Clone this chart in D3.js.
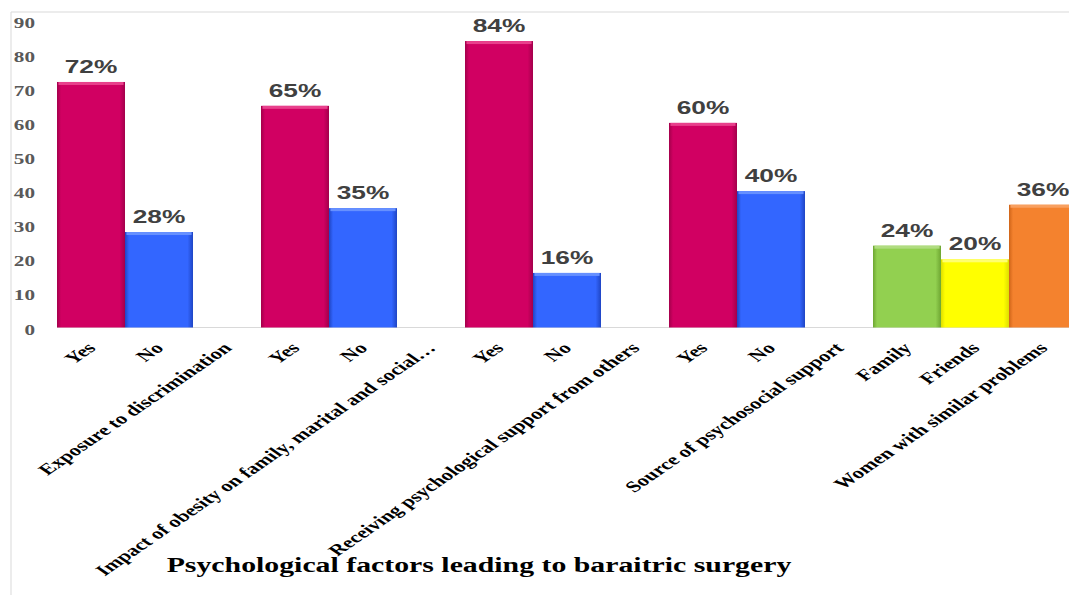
<!DOCTYPE html>
<html>
<head>
<meta charset="utf-8">
<script src="https://cdn.jsdelivr.net/npm/d3@7"></script>
<style>
  body { margin: 0; background: #fff; }
  svg { display: block; }
</style>
</head>
<body>
<div id="plot"></div>
<script>
// categories along the x axis (group titles sit in their own empty slot)
const categories = [
  "Yes", "No", "Exposure to discrimination",
  "Yes", "No", "Impact of obesity on family, marital and social\u2026",
  "Yes", "No", "Receiving psychological support from others",
  "Yes", "No", "Source of psychosocial support",
  "Family", "Friends", "Women with similar problems"
];
// percentages, null where the slot only carries the group title
const values = [72, 28, null, 65, 35, null, 84, 16, null, 60, 40, null, 24, 20, 36];
const yTicks = [0, 10, 20, 30, 40, 50, 60, 70, 80, 90];
const chartTitle = "Psychological factors leading to baraitric surgery";

const width = 1069, height = 595;
const SX = 1.46;            // the picture is stretched sideways
const vw = width / SX;

const svg = d3.select("#plot").append("svg")
  .attr("width", width)
  .attr("height", height);

// chart border (left and top only visible)
svg.append("line").attr("x1", 11).attr("x2", 11).attr("y1", 12).attr("y2", height)
  .attr("stroke", "#d9d9d9");
svg.append("line").attr("x1", 11).attr("x2", width).attr("y1", 12).attr("y2", 12)
  .attr("stroke", "#d9d9d9");

const g = svg.append("g").attr("transform", `scale(${SX},1)`);

const x = d3.scaleBand()
  .domain(d3.range(categories.length))
  .range([57 / SX, 1077 / SX])
  .padding(0);

const y = d3.scaleLinear()
  .domain([0, 90])
  .range([327.5, 20.6]);

const colorOf = d3.scaleOrdinal()
  .domain(["Yes", "No", "Family", "Friends", "Women with similar problems"])
  .range([
    { base: "#d10062", edge: "#a3004b", top: "#e8408c" },
    { base: "#3366ff", edge: "#1f45c4", top: "#6690ff" },
    { base: "#92d050", edge: "#6ea632", top: "#b0dc80" },
    { base: "#ffff00", edge: "#dede00", top: "#ffff70" },
    { base: "#f4822e", edge: "#cf6419", top: "#f8a060" }
  ]);

const defs = svg.append("defs");
colorOf.domain().forEach((k, i) => {
  const c = colorOf(k);
  const grad = defs.append("linearGradient").attr("id", "grad" + i)
    .attr("x1", "0").attr("x2", "1").attr("y1", "0").attr("y2", "0");
  grad.append("stop").attr("offset", "0%").attr("stop-color", c.edge);
  grad.append("stop").attr("offset", "6%").attr("stop-color", c.base);
  grad.append("stop").attr("offset", "92%").attr("stop-color", c.base);
  grad.append("stop").attr("offset", "100%").attr("stop-color", c.edge);
});
const gradId = label => "url(#grad" + colorOf.domain().indexOf(label) + ")";

const bars = categories.map((c, i) => ({ i, label: c, value: values[i] }))
  .filter(d => d.value != null);

// bottom axis line
g.append("line")
  .attr("x1", x.range()[0]).attr("x2", vw)
  .attr("y1", y(0)).attr("y2", y(0))
  .attr("stroke", "#d9d9d9").attr("stroke-width", 1);

g.selectAll(".bar")
  .data(bars)
  .enter().append("rect")
  .attr("class", "bar")
  .attr("x", d => x(d.i))
  .attr("y", d => y(d.value))
  .attr("width", x.bandwidth())
  .attr("height", d => y(0) - y(d.value))
  .attr("fill", d => gradId(d.label));

// top bevel
g.selectAll(".bevel")
  .data(bars)
  .enter().append("rect")
  .attr("class", "bevel")
  .attr("x", d => x(d.i) + 1)
  .attr("y", d => y(d.value))
  .attr("width", x.bandwidth() - 2)
  .attr("height", 3)
  .attr("fill", d => colorOf(d.label).top);

// value labels
g.selectAll(".val")
  .data(bars)
  .enter().append("text")
  .attr("class", "val")
  .attr("x", d => x(d.i) + x.bandwidth() / 2)
  .attr("y", d => y(d.value) - 9)
  .attr("text-anchor", "middle")
  .attr("font-family", "'Liberation Sans', Arial, sans-serif")
  .attr("font-weight", "bold")
  .attr("font-size", 18)
  .attr("fill", "#404040")
  .text(d => d.value + "%");

// y axis
const yAxis = g.append("g")
  .attr("transform", `translate(${35 / SX},0)`)
  .call(d3.axisLeft(y).tickValues(yTicks).tickSize(0).tickPadding(0));
yAxis.select(".domain").remove();
yAxis.selectAll("text")
  .attr("font-family", "'Liberation Serif', 'Times New Roman', serif")
  .attr("font-weight", "bold")
  .attr("font-size", 14.5)
  .attr("fill", "#595959")
  .attr("dy", "0.45em");

// x category labels, rotated
g.selectAll(".cat")
  .data(categories)
  .enter().append("text")
  .attr("class", "cat")
  .attr("transform", (d, i) =>
    `translate(${x(i) + x.bandwidth() / 2 + 4},349) rotate(-45)`)
  .attr("text-anchor", "end")
  .attr("font-family", "'Liberation Serif', 'Times New Roman', serif")
  .attr("font-weight", "bold")
  .attr("font-size", 15.5)
  .attr("fill", "#000")
  .text(d => d);

// title
svg.append("g")
  .attr("transform", "translate(479,572) scale(1.42,1)")
  .append("text")
  .attr("text-anchor", "middle")
  .attr("font-family", "'Liberation Serif', 'Times New Roman', serif")
  .attr("font-weight", "bold")
  .attr("font-size", 21)
  .attr("fill", "#000")
  .text(chartTitle);
</script>
</body>
</html>
